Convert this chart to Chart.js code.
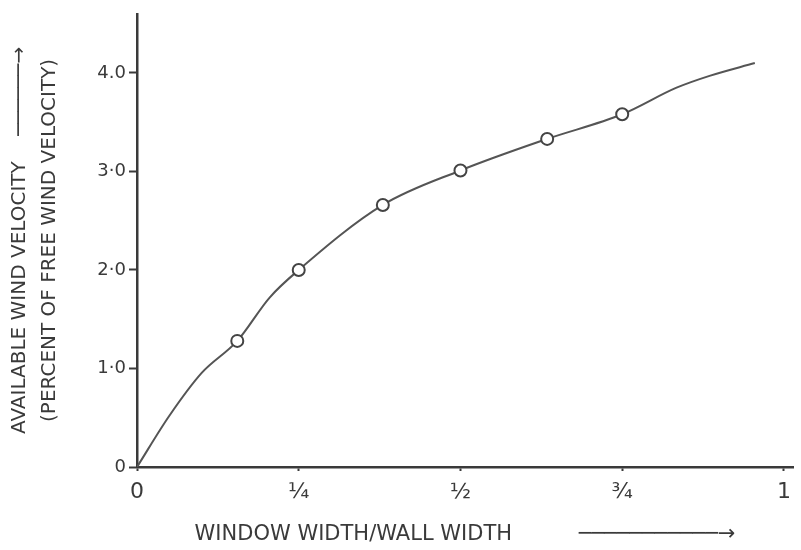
<!DOCTYPE html>
<html>
<head>
<meta charset="utf-8">
<script src="https://cdn.jsdelivr.net/npm/chart.js@4"></script>
<style>
    html, body { margin: 0; padding: 0; background: #fff; }
    #wrap { width: 801px; height: 550px; }
</style>
</head>
<body>
<div id="wrap"><canvas id="chart"></canvas></div>
<script>
// hand-drawn curve
const curveX = [0, 0.05, 0.1, 0.155, 0.205, 0.25, 0.38, 0.5, 0.634, 0.75, 0.834, 0.885, 0.955];
const curveY = [0, 0.52, 0.955, 1.28, 1.72, 2.0, 2.66, 3.01, 3.33, 3.58, 3.85, 3.97, 4.10];

// measured points (open circles)
const pointX = [0.155, 0.25, 0.38, 0.5, 0.634, 0.75];
const pointY = [1.28, 2.0, 2.66, 3.01, 3.33, 3.58];

const xTicks = [0, 0.25, 0.5, 0.75, 1];
const xTickLabels = ['0', '¼', '½', '¾', '1'];
const yTicks = [0, 1, 2, 3, 4];
const yTickLabels = ['0', '1·0', '2·0', '3·0', '4.0'];

const ink = '#3a3a3a';
const lineInk = '#555';
const font = 'DejaVu Sans';

const toXY = (xs, ys) => xs.map((x, i) => ({ x: x, y: ys[i] }));

new Chart(document.getElementById('chart'), {
    type: 'scatter',
    data: {
        datasets: [
            {
                data: toXY(curveX, curveY),
                showLine: true,
                borderColor: lineInk,
                borderWidth: 2,
                pointRadius: 0,
                cubicInterpolationMode: 'monotone',
                order: 2
            },
            {
                data: toXY(pointX, pointY),
                showLine: false,
                pointRadius: 6,
                pointBackgroundColor: '#fff',
                pointBorderColor: '#444',
                pointBorderWidth: 2,
                order: 1
            }
        ]
    },
    options: {
        responsive: true,
        maintainAspectRatio: false,
        animation: false,
        layout: { padding: { top: 8, right: 0, left: 0, bottom: 0 } },
        plugins: { legend: { display: false }, tooltip: { enabled: false } },
        scales: {
            x: {
                type: 'linear',
                min: 0,
                max: 1.014,
                afterBuildTicks: (scale) => { scale.ticks = xTicks.map(v => ({ value: v })); },
                afterFit: (scale) => { scale.height = 83; },
                border: { color: ink, width: 2.5 },
                grid: { drawOnChartArea: false, tickLength: 4, tickColor: ink, tickWidth: 2 },
                ticks: {
                    color: ink,
                    padding: 8,
                    font: { family: font, size: 22 },
                    callback: (v) => xTickLabels[xTicks.indexOf(v)]
                },
                title: {
                    display: true,
                    text: 'WINDOW WIDTH/WALL WIDTH          ───────────→',
                    color: ink,
                    font: { family: font, size: 21 },
                    padding: { top: 0, bottom: 3 }
                }
            },
            y: {
                type: 'linear',
                min: 0,
                max: 4.6,
                afterBuildTicks: (scale) => { scale.ticks = yTicks.map(v => ({ value: v })); },
                afterFit: (scale) => { scale.width = 137; },
                border: { color: ink, width: 2.5 },
                grid: { drawOnChartArea: false, tickLength: 8, tickColor: ink, tickWidth: 2 },
                ticks: {
                    color: ink,
                    padding: 3,
                    font: { family: font, size: 18 },
                    callback: (v) => yTickLabels[yTicks.indexOf(v)]
                },
                title: {
                    display: true,
                    text: ['AVAILABLE WIND VELOCITY    ──────→', '(PERCENT OF FREE WIND VELOCITY)'],
                    color: ink,
                    font: { family: font, size: 20, lineHeight: 1.5 },
                    padding: { top: 5, bottom: 0 }
                }
            }
        }
    }
});
</script>
</body>
</html>
